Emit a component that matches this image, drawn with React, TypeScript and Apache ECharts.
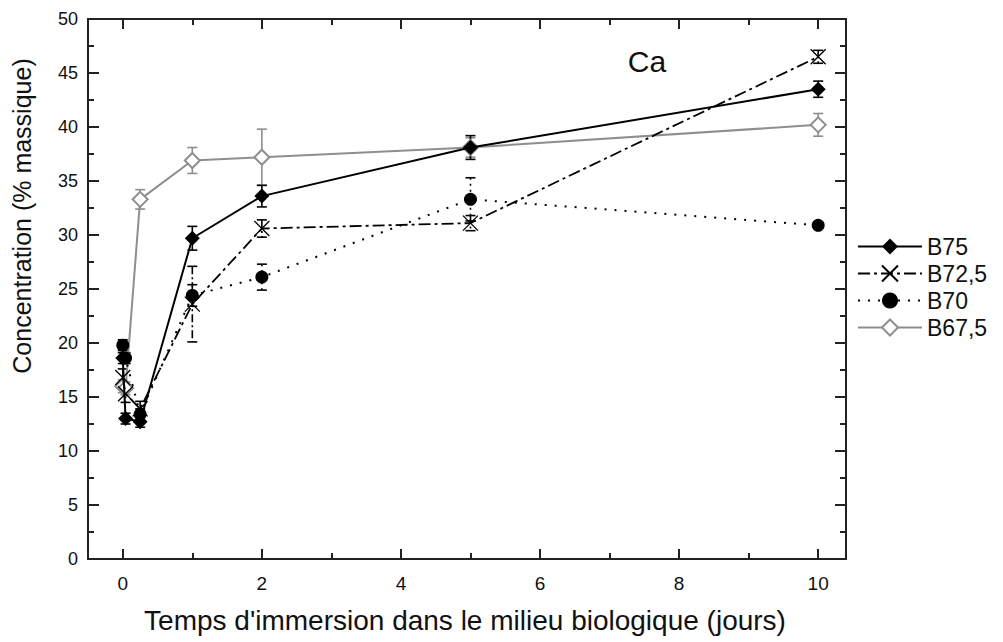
import React, { useEffect, useRef } from "react";
import * as echarts from "echarts";

// ---- data ----
const days = [0, 0.04, 0.25, 1, 2, 5, 10];
const seriesNames = ["B75", "B72,5", "B70", "B67,5"];
const b75 = [18.6, 13.0, 12.7, 29.7, 33.6, 38.1, 43.5];
const b75Err = [0.5, 0.5, 0.5, 1.1, 1.0, 1.1, 0.75];
const b725 = [16.8, 15.3, 13.9, 23.6, 30.6, 31.1, 46.5];
const b725Err = [0.8, 0.8, 0.7, 3.5, 0.8, 0.7, 0.6];
const b70 = [19.8, 18.6, 13.4, 24.4, 26.1, 33.3, 30.9];
const b70Err = [0.5, 0.5, 0.5, 1.0, 1.2, 2.0, 0.3];
const b675 = [16.0, 15.8, 33.3, 36.9, 37.2, 38.1, 40.2];
const b675Err = [0.6, 0.6, 0.9, 1.2, 2.6, 0.9, 1.05];
const xMajorTicks = [0, 2, 4, 6, 8, 10];
const xMinorTicks = [1, 3, 5, 7, 9];
const xTitle = "Temps d'immersion dans le milieu biologique (jours)";
const yTitle = "Concentration (% massique)";
const elementLabel = "Ca";

const FONT = "'Liberation Sans', Arial, Helvetica, sans-serif";
const GRAY = "#8e8e8e";

const pairs = (ys: number[]) => days.map((d, i) => [d, ys[i]]);
const errs = (ys: number[], e: number[]) =>
  days.map((d, i) => [d, ys[i] - e[i], ys[i] + e[i]]);

function errRender(color: string, dash: number[] | null) {
  return (_params: any, api: any) => {
    const x = api.value(0);
    const lo = api.value(1);
    const hi = api.value(2);
    const p1 = api.coord([x, hi]);
    const p2 = api.coord([x, lo]);
    const w = 5;
    const capStyle = { stroke: color, lineWidth: 1.6, fill: "none" };
    const barStyle: any = { stroke: color, lineWidth: 1.6, fill: "none" };
    if (dash) barStyle.lineDash = dash;
    return {
      type: "group",
      children: [
        { type: "line", shape: { x1: p1[0], y1: p1[1], x2: p2[0], y2: p2[1] }, style: barStyle },
        { type: "line", shape: { x1: p1[0] - w, y1: p1[1], x2: p1[0] + w, y2: p1[1] }, style: capStyle },
        { type: "line", shape: { x1: p2[0] - w, y1: p2[1], x2: p2[0] + w, y2: p2[1] }, style: capStyle },
      ],
    };
  };
}

const X_MIN = -0.5;
const X_MAX = 10.4;

function xAxisDef(position: "top" | "bottom", ticks: number[], len: number, labels: boolean, line: boolean) {
  return {
    type: "value",
    position,
    min: X_MIN,
    max: X_MAX,
    splitLine: { show: false },
    axisLine: { show: line, onZero: false, lineStyle: { color: "#222", width: 2 } },
    axisTick: {
      show: true,
      inside: true,
      length: len,
      customValues: ticks,
      lineStyle: { color: "#222", width: 2 },
    },
    axisLabel: labels
      ? { show: true, customValues: ticks, fontSize: 19, color: "#111", fontFamily: FONT, margin: 15 }
      : { show: false },
  };
}

function yAxisDef(position: "left" | "right", labels: boolean) {
  return {
    type: "value",
    position,
    min: 0,
    max: 50,
    interval: 5,
    splitLine: { show: false },
    axisLine: { show: true, onZero: false, lineStyle: { color: "#222", width: 2 } },
    axisTick: { show: true, inside: true, length: 11, lineStyle: { color: "#222", width: 2 } },
    minorTick: { show: true, splitNumber: 2, length: 6, lineStyle: { color: "#222", width: 2 } },
    axisLabel: labels
      ? { show: true, fontSize: 18, color: "#111", fontFamily: FONT, margin: 10 }
      : { show: false },
  };
}

export default function App() {
  const ref = useRef<HTMLDivElement>(null);
  useEffect(() => {
    document.body.style.margin = "0";
    if (!ref.current) return;
    const chart = echarts.init(ref.current, null, { renderer: "svg" });
    const crossPath = "path://M0,0L10,10M10,0L0,10";
    const option: any = {
      animation: false,
      backgroundColor: "#fff",
      grid: { left: 88, top: 19, right: 157, bottom: 83, containLabel: false },
      xAxis: [
        xAxisDef("bottom", xMajorTicks, 10, true, true),
        xAxisDef("bottom", xMinorTicks, 6, false, false),
        xAxisDef("top", xMajorTicks, 10, false, true),
        xAxisDef("top", xMinorTicks, 6, false, false),
      ],
      yAxis: [yAxisDef("left", true), yAxisDef("right", false)],
      legend: {
        data: seriesNames,
        orient: "vertical",
        left: 852,
        top: 230,
        itemWidth: 64,
        itemHeight: 20,
        itemGap: 4,
        textStyle: { fontSize: 23, color: "#111", fontFamily: FONT },
      },
      graphic: [
        {
          type: "text",
          x: 647,
          y: 61,
          style: { text: elementLabel, fontSize: 30, fill: "#111", fontFamily: FONT, textAlign: "center", textVerticalAlign: "middle" },
        },
        {
          type: "text",
          x: 465,
          y: 620,
          style: { text: xTitle, fontSize: 28, fill: "#111", fontFamily: FONT, textAlign: "center", textVerticalAlign: "middle" },
        },
        {
          type: "text",
          x: 22,
          y: 216,
          rotation: Math.PI / 2,
          style: { text: yTitle, fontSize: 25, fill: "#111", fontFamily: FONT, textAlign: "center", textVerticalAlign: "middle" },
        },
      ],
      series: [
        { type: "custom", name: "errB67", data: errs(b675, b675Err), renderItem: errRender(GRAY, null), encode: { x: 0, y: [1, 2] }, z: 1, silent: true },
        { type: "custom", name: "errB70", data: errs(b70, b70Err), renderItem: errRender("#000", [2, 4]), encode: { x: 0, y: [1, 2] }, z: 1, silent: true },
        { type: "custom", name: "errB72", data: errs(b725, b725Err), renderItem: errRender("#000", [8, 3, 2, 3]), encode: { x: 0, y: [1, 2] }, z: 1, silent: true },
        { type: "custom", name: "errB75", data: errs(b75, b75Err), renderItem: errRender("#000", null), encode: { x: 0, y: [1, 2] }, z: 1, silent: true },
        {
          name: "B67,5",
          type: "line",
          data: pairs(b675),
          symbol: "emptyDiamond",
          symbolSize: 15,
          lineStyle: { color: GRAY, width: 2 },
          itemStyle: { color: GRAY, borderColor: GRAY, borderWidth: 1.5 },
          z: 2,
        },
        {
          name: "B70",
          type: "line",
          data: pairs(b70),
          symbol: "circle",
          symbolSize: 13,
          lineStyle: { color: "#000", width: 2, type: [2, 8] },
          itemStyle: { color: "#000" },
          z: 3,
        },
        {
          name: "B72,5",
          type: "line",
          data: pairs(b725),
          symbol: crossPath,
          symbolSize: 15,
          lineStyle: { color: "#000", width: 1.8, type: [12, 4, 3, 4] },
          itemStyle: { color: "#000", borderColor: "#000", borderWidth: 1.3 },
          z: 4,
        },
        {
          name: "B75",
          type: "line",
          data: pairs(b75),
          symbol: "diamond",
          symbolSize: 15,
          lineStyle: { color: "#000", width: 2 },
          itemStyle: { color: "#000" },
          z: 5,
        },
      ],
    };
    chart.setOption(option);
    return () => chart.dispose();
  }, []);
  return <div ref={ref} style={{ width: 1003, height: 642 }} />;
}
